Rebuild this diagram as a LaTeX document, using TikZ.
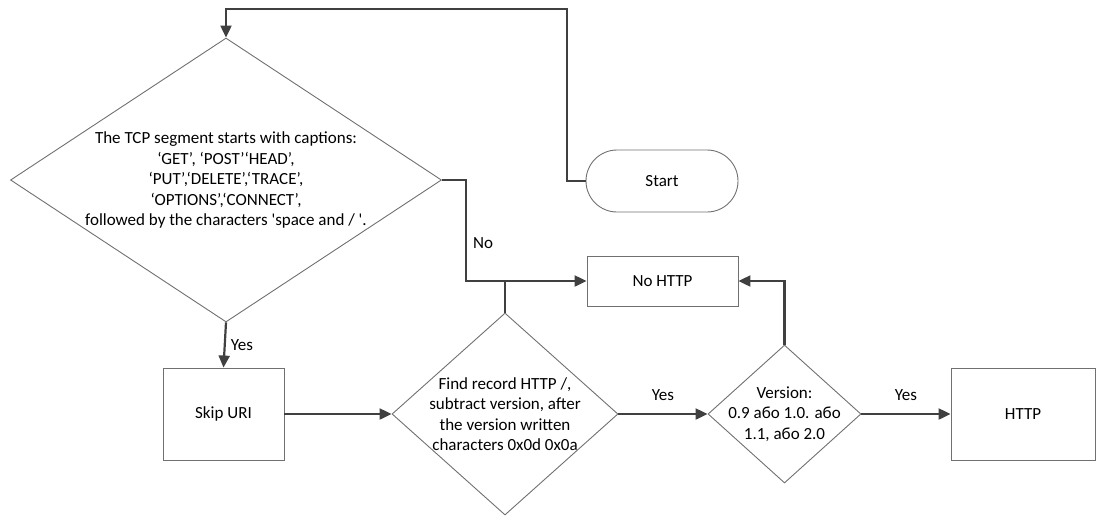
\documentclass[tikz,border=0pt]{standalone}
\usepackage{fontspec}
\setmainfont{Carlito}
\usetikzlibrary{shapes.geometric, arrows.meta}
\definecolor{flowGray}{HTML}{404040}
\definecolor{edgeGray}{HTML}{707070}
\tikzset{block/.style={rectangle, draw=edgeGray, line width=0.9pt}}
\tikzset{term/.style={block, rounded corners=31pt}}
\tikzset{decision/.style={diamond, draw=edgeGray, line width=0.9pt, inner sep=0pt}}
\tikzset{flow/.style={draw=flowGray, line width=2.2pt}}
\tikzset{arr/.style={flow, -{Triangle[length=12pt, width=11pt]}}}

\begin{document}
\begin{tikzpicture}[x=1pt, y=-1pt, font=\fontsize{17}{20.5}\selectfont]
            \useasboundingbox (0, 0) rectangle (1098, 515);
            % blocks
            \node[term, minimum width=152pt, minimum height=62pt] (start) at (662, 181) {Start};
            \node[decision, minimum width=431pt, minimum height=284pt] (check) at (226, 180) {};
            \node[align=center] (checktxt) at (check) {The TCP segment starts with captions:\\ ‘GET’, ‘POST’‘HEAD’,\\ ‘PUT’,‘DELETE’,‘TRACE’,\\ ‘OPTIONS’,‘CONNECT’,\\ followed by the characters \textquotesingle space and / \textquotesingle.};
            \node[block, minimum width=151pt, minimum height=50pt] (nohttp) at (662.5, 281) {No HTTP};
            \node[block, minimum width=121pt, minimum height=92pt] (skip) at (223.5, 414) {Skip URI};
            \node[decision, minimum width=226pt, minimum height=202pt] (find) at (505, 414) {};
            \node[align=center] (findtxt) at (find) {Find record HTTP /,\\ subtract version, after\\ the version written\\ characters 0x0d 0x0a};
            \node[decision, minimum width=153pt, minimum height=138pt] (version) at (784.5, 414) {};
            \node[align=center] (versiontxt) at (version) {Version:\\ 0.9 або 1.0. або\\ 1.1, або 2.0};
            \node[block, minimum width=144pt, minimum height=92pt] (http) at (1023, 414) {HTTP};
            % connectors
            \coordinate (loop) at (567, 9);
            \draw[arr] (start.west) -| (loop) -| (check.north);
            \draw[arr] (check.east) -- ++(24, 0) |- node[pos=0.31, right, inner sep=6pt] {No} (nohttp.west);
            \draw[flow] (find.north) -- (find.north |- nohttp.west);
            \draw[arr] (version.north) |- (nohttp.east);
            \draw[arr] (check.south) -- (skip.north) node[midway, right, inner sep=5pt] {Yes};
            \draw[arr] (skip.east) -- (find.west);
            \draw[arr] (find.east) -- (version.west) node[midway, above=9pt] {Yes};
            \draw[arr] (version.east) -- (http.west) node[midway, above=9pt] {Yes};
        \end{tikzpicture}
\end{document}
